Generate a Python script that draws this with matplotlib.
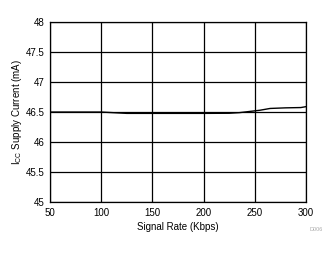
import matplotlib.pyplot as plt

rate = [50, 75, 100, 125, 150, 175, 200, 225, 235, 245, 255, 265, 280, 295, 300]
current = [46.5, 46.5, 46.5, 46.478, 46.478, 46.478, 46.478, 46.48, 46.49,
           46.51, 46.53, 46.56, 46.57, 46.575, 46.59]

xticks = [50, 100, 150, 200, 250, 300]
yticks = [45, 45.5, 46, 46.5, 47, 47.5, 48]
ytick_labels = ['45', '45.5', '46', '46.5', '47', '47.5', '48']


def plot():
    plt.rcParams['font.family'] = ['Liberation Sans', 'DejaVu Sans']
    fig = plt.figure(figsize=(3.34, 2.54), dpi=100)
    ax = fig.add_axes([0.1497, 0.2047, 0.7663, 0.7083])

    ax.plot(rate, current, color='black', lw=1.0, zorder=3)

    ax.set_xlim(50, 300)
    ax.set_ylim(45, 48)
    ax.set_xticks(xticks)
    ax.set_yticks(yticks)
    ax.set_yticklabels(ytick_labels)
    ax.grid(True, color='black', lw=0.9)
    ax.tick_params(length=0, labelsize=7, pad=4, colors='black')
    for s in ax.spines.values():
        s.set_linewidth(0.9)

    ax.set_xlabel('Signal Rate (Kbps)', fontsize=7, labelpad=3)
    ax.set_ylabel(r'I$_{\mathregular{CC}}$ Supply Current (mA)', fontsize=7, labelpad=1)
    fig.text(0.965, 0.09, 'D006', fontsize=4, color='#aaaaaa', ha='right')

    fig.savefig('out.png', dpi=100)


if __name__ == '__main__':
    plot()
